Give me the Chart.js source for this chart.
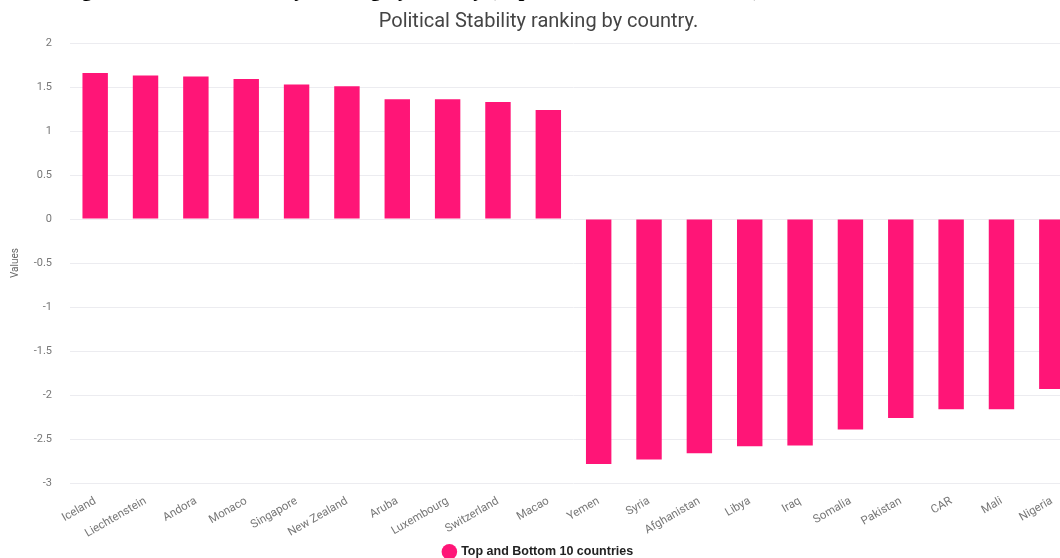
<!DOCTYPE html>
<html>
<head>
<meta charset="utf-8">
<script src="https://cdn.jsdelivr.net/npm/chart.js@4"></script>
<style>
  html, body { margin: 0; padding: 0; background: #fff; overflow: hidden; }
  #wrap { position: relative; width: 1060px; height: 558px; overflow: hidden; }
  #heading {
    position: absolute; left: 63px; top: -21px; white-space: nowrap;
    font: bold 21px/21px "Liberation Serif", "Times New Roman", serif; color: #000;
  }
  #box { position: absolute; left: 0; top: 0; width: 1080px; height: 568px; }
</style>
</head>
<body>
<div id="wrap">
  <div id="box"><canvas id="stabilityChart"></canvas></div>
  <div id="heading">Figure 7: Political Stability ranking by country (Top and bottom 10 countries), 2019</div>
</div>
<script>
const countries = ['Iceland', 'Liechtenstein', 'Andora', 'Monaco', 'Singapore', 'New Zealand',
    'Aruba', 'Luxembourg', 'Switzerland', 'Macao', 'Yemen', 'Syria', 'Afghanistan', 'Libya',
    'Iraq', 'Somalia', 'Pakistan', 'CAR', 'Mali', 'Nigeria'];
const stability = [1.66, 1.63, 1.62, 1.59, 1.53, 1.51, 1.36, 1.36, 1.33, 1.24,
    -2.78, -2.73, -2.66, -2.58, -2.57, -2.39, -2.26, -2.16, -2.16, -1.93];
const seriesName = 'Top and Bottom 10 countries';
const yMin = -3, yMax = 2, yStep = 0.5;

const ctx = document.getElementById('stabilityChart').getContext('2d');
new Chart(ctx, {
    type: 'bar',
    data: {
        labels: countries,
        datasets: [{
            label: seriesName,
            data: stability,
            backgroundColor: '#ff1577',
            borderColor: '#ff1577',
            borderWidth: 0,
            barPercentage: 0.505,
            categoryPercentage: 1
        }]
    },
    options: {
        responsive: true,
        maintainAspectRatio: false,
        animation: false,
        layout: { padding: { left: 0, right: 3, top: 0, bottom: 0 } },
        plugins: {
            title: {
                display: true,
                text: 'Political Stability ranking by country.',
                color: '#444',
                font: { family: 'Roboto', size: 20, weight: 'normal' },
                padding: { top: 10, bottom: 9 }
            },
            legend: {
                position: 'bottom',
                labels: {
                    usePointStyle: true,
                    pointStyle: 'circle',
                    boxWidth: 11,
                    boxHeight: 11,
                    color: '#222',
                    font: { family: 'Arial, "Liberation Sans"', size: 12.5, weight: 'bold' },
                    padding: 2
                }
            },
            tooltip: { enabled: false }
        },
        scales: {
            x: {
                grid: { display: false },
                border: { display: false },
                afterFit: s => { s.paddingLeft = 0; s.paddingRight = 0; },
                ticks: {
                    color: '#777',
                    font: { family: 'Roboto', size: 11.5 },
                    minRotation: 30,
                    maxRotation: 30,
                    autoSkip: false,
                    padding: 3
                }
            },
            y: {
                min: yMin,
                max: yMax,
                border: { display: false },
                grid: { color: '#ececf0', drawTicks: false },
                afterFit: s => { s.width = 70; },
                title: {
                    display: true,
                    text: 'Values',
                    color: '#666',
                    font: { family: 'Roboto', size: 10 },
                    padding: { top: 9, bottom: 0 }
                },
                ticks: {
                    stepSize: yStep,
                    color: '#777',
                    font: { family: 'Roboto', size: 11 },
                    padding: 18,
                    callback: v => String(v)
                }
            }
        }
    }
});
</script>
</body>
</html>
